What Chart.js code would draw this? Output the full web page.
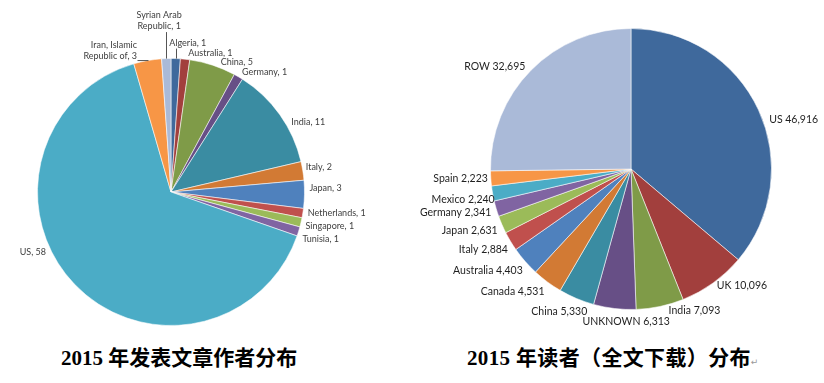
<!DOCTYPE html>
<html lang="zh">
<head>
  <meta charset="UTF-8" />
  <title>2015 作者与读者分布</title>
  <script src="https://cdn.jsdelivr.net/npm/chart.js"></script>
  <style>
    body {
      margin: 0;
      width: 824px;
      height: 383px;
      background: #fff;
      position: relative;
      overflow: hidden;
    }

    canvas {
      position: absolute;
      top: 0;
    }

    #left-chart { left: 0; }
    #right-chart { left: 412px; }

    .caption {
      position: absolute;
      top: 345px;
      font-family: "Liberation Serif", "Noto Sans CJK SC", serif;
      font-weight: bold;
      font-size: 21px;
      line-height: 26px;
      color: #000;
      white-space: nowrap;
    }

    .caption .mark {
      font-family: "DejaVu Sans", sans-serif;
      font-weight: normal;
      font-size: 9px;
      color: #999;
    }
  </style>
</head>

<body>
  <canvas id="left-chart" width="412" height="335"></canvas>
  <canvas id="right-chart" width="412" height="335"></canvas>
  <div class="caption" id="cap-left" style="left: 61px;">2015 年发表文章作者分布</div>
  <div class="caption" id="cap-right" style="left: 467px; letter-spacing: 0.35px;">2015 年读者（全文下载）分布<span class="mark">↵</span></div>

  <script>
    // ---- data ----
    const authorCountries = [
      "Algeria", "Australia", "China", "Germany", "India", "Italy", "Japan",
      "Netherlands", "Singapore", "Tunisia", "US", "Iran, Islamic Republic of",
      "Syrian Arab Republic",
    ];
    const authorCounts = [1, 1, 5, 1, 11, 2, 3, 1, 1, 1, 58, 3, 1];

    const readerCountries = [
      "US", "UK", "India", "UNKNOWN", "China", "Canada", "Australia", "Italy",
      "Japan", "Germany", "Mexico", "Spain", "ROW",
    ];
    const readerDownloads = [46916, 10096, 7093, 6313, 5330, 4531, 4403, 2884, 2631, 2341, 2240, 2223, 32695];

    // Excel-like palette: darker shades first, then the normal accents
    const palette = [
      "#3F699C", "#A23F3D", "#7F9B48", "#674F86", "#3A8CA2", "#D27A34",
      "#4F81BD", "#C0504D", "#9BBB59", "#8064A2", "#4BACC6", "#F79646", "#AABAD8",
    ];

    // label nudges (dx, dy) from the default outside-end spot, and leader lines
    const authorNudge = [
      [12, -7], [25, 2], [7, 5], [2, 3], [9, 12], [0, -2], [2, -6.5],
      [2, -1.5], [1.5, 1.5], [1, 5], [-26, -38], [-10, 4], [-7, -23.5],
    ];
    const authorLeader = [true, false, false, false, false, false, false, false, false, false, false, true, true];
    const readerNudge = [
      [8, 14], [2, -5.5], [8, -5], [12, 4], [12, 4], [-1, 2], [0, 3],
      [0, 3.5], [-1.5, 2], [-2, 1], [5, 4], [0, -0.5], [-3.5, 2.7],
    ];

    function wrapText(ctx, text, maxW) {
      if (!maxW || ctx.measureText(text).width <= maxW) return [text];
      const words = text.split(" ");
      const lines = [];
      let cur = "";
      for (const w of words) {
        const test = cur ? cur + " " + w : w;
        if (cur && ctx.measureText(test).width > maxW) {
          lines.push(cur);
          cur = w;
        } else {
          cur = test;
        }
      }
      if (cur) lines.push(cur);
      return lines;
    }

    // draws the outside labels from the arc geometry
    const outsideLabels = {
      id: "outsideLabels",
      afterDatasetsDraw(chart, args, opts) {
        const ctx = chart.ctx;
        const meta = chart.getDatasetMeta(0);
        const labels = chart.data.labels;
        const values = chart.data.datasets[0].data;
        ctx.save();
        ctx.font = opts.font;
        ctx.fillStyle = opts.color;
        ctx.textBaseline = "middle";
        meta.data.forEach((arc, i) => {
          const mid = (arc.startAngle + arc.endAngle) / 2;
          const ux = Math.cos(mid);
          const uy = Math.sin(mid);
          const R = arc.outerRadius + opts.gap;
          const lines = wrapText(ctx, opts.format(labels[i], values[i]), opts.wrap);
          const lh = opts.lineHeight;
          const hh = (lines.length * lh) / 2;
          const w = Math.max(...lines.map((l) => ctx.measureText(l).width));
          const nudge = opts.nudge[i] || [0, 0];
          let align = "center";
          if (ux > 0.15) align = "left";
          else if (ux < -0.15) align = "right";
          const ax = arc.x + R * ux + nudge[0];
          const cy = arc.y + R * uy + hh * uy + nudge[1];

          let left = ax - w / 2;
          if (align === "left") left = ax;
          if (align === "right") left = ax - w;

          ctx.textAlign = align;
          lines.forEach((line, k) => {
            ctx.fillText(line, ax, cy - hh + lh * (k + 0.5));
          });

          if (opts.leader && opts.leader[i]) {
            const ex = arc.x + arc.outerRadius * ux;
            const ey = arc.y + arc.outerRadius * uy;
            const bx = Math.min(Math.max(ex, left), left + w);
            const by = Math.min(Math.max(ey, cy - hh), cy + hh);
            ctx.strokeStyle = opts.leaderColor;
            ctx.lineWidth = 1;
            ctx.beginPath();
            ctx.moveTo(Math.round(ex) + 0.5, ey);
            ctx.lineTo(Math.round(bx) + 0.5, by);
            ctx.stroke();
          }
        });
        ctx.restore();
      },
    };

    function makePie(canvasId, labels, values, padding, labelOpts) {
      return new Chart(document.getElementById(canvasId), {
        type: "pie",
        data: {
          labels: labels,
          datasets: [
            {
              data: values,
              backgroundColor: palette,
              borderColor: "rgba(255,255,255,0.55)",
              borderWidth: 1,
            },
          ],
        },
        options: {
          responsive: false,
          animation: false,
          devicePixelRatio: 1,
          layout: { padding: padding },
          plugins: {
            legend: { display: false },
            tooltip: { enabled: false },
            outsideLabels: labelOpts,
          },
        },
        plugins: [outsideLabels],
      });
    }

    makePie("left-chart", authorCountries, authorCounts,
      { left: 37, right: 107, top: 58, bottom: 9 },
      {
        font: "9px Lato",
        color: "#404040",
        lineHeight: 11,
        gap: 3,
        wrap: 60,
        nudge: authorNudge,
        leader: authorLeader,
        leaderColor: "#555",
        format: (name, v) => name + ", " + v,
      });

    makePie("right-chart", readerCountries, readerDownloads,
      { left: 78, right: 52, top: 28, bottom: 25 },
      {
        font: "10.5px Lato",
        color: "#1f1f1f",
        lineHeight: 13,
        gap: 3,
        wrap: 0,
        nudge: readerNudge,
        format: (name, v) => name + " " + v.toLocaleString("en-US"),
      });
  </script>
</body>

</html>
